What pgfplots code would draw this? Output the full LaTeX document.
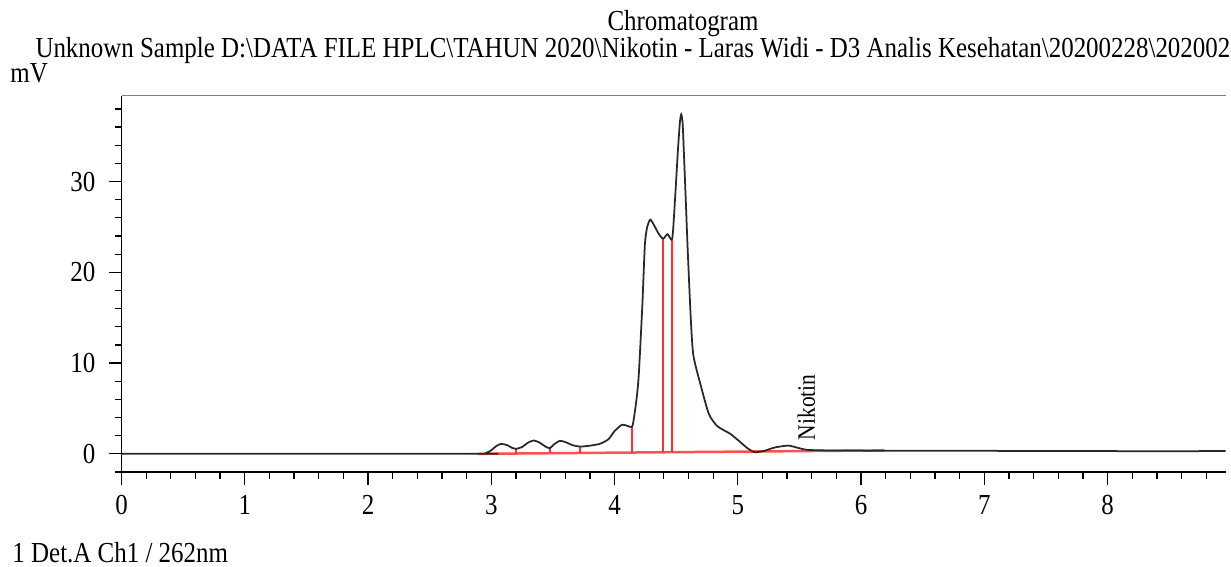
\documentclass[border=0pt]{standalone}
\usepackage{fontspec}
\setmainfont{Liberation Serif}[FakeStretch=0.86]
\usepackage{pgfplots}
\pgfplotsset{compat=1.18}
\definecolor{peakred}{RGB}{255,50,50}
\definecolor{sig}{RGB}{40,40,40}
\begin{document}
\fontsize{11.6}{14}\selectfont
\begin{tikzpicture}[x=0.4pt,y=0.4pt]
\useasboundingbox (0,0) rectangle (1231,566);
\clip (0,0) rectangle (1231,566);
\node[anchor=base, inner sep=0] at (683,535) {Chromatogram};
\node[anchor=base west, inner sep=0] at (35,508) {Unknown Sample D:\textbackslash DATA FILE HPLC\textbackslash TAHUN 2020\textbackslash Nikotin - Laras Widi - D3 Analis Kesehatan\textbackslash 20200228\textbackslash 202002};
\node[anchor=base west, inner sep=0] at (10,483) {mV};
\node[anchor=base west, inner sep=0] at (12,4) {1 Det.A Ch1 / 262nm};
\begin{axis}[
  at={(48.6pt,37.6pt)}, anchor=south west,
  scale only axis, width=441.6pt, height=150.5pt,
  xmin=0, xmax=8.957, ymin=-2, ymax=39.45,
  axis lines*=left, axis line style={-, line width=0.6pt, black},
  xtick={0,1,...,8}, ytick={0,10,20,30},
  minor xtick={0,0.2,...,8.9}, minor ytick={-2,0,...,38},
  tick align=outside,
  major tick length=5.2pt, minor tick length=2.8pt,
  every tick/.style={black, line width=0.5pt},
  /pgf/number format/assume math mode=true,
  tick label style={font=\fontsize{11.6}{14}\selectfont},
  yticklabel style={xshift=-1.2pt},
  clip=false,
]
\draw[gray, line width=0.6pt] (rel axis cs:0,1) -- (rel axis cs:1,1);
% baseline of integration
\addplot[peakred!85, line width=1pt] coordinates {(2.89,0) (6.19,0.38)};
% peak boundary markers
\addplot[peakred, line width=0.7pt] coordinates {(3.20,0.036) (3.20,0.55)};
\addplot[peakred, line width=0.7pt] coordinates {(3.475,0.067) (3.475,0.62)};
\addplot[peakred, line width=0.7pt] coordinates {(3.72,0.096) (3.72,0.80)};
\addplot[peakred, line width=0.7pt] coordinates {(4.143,0.144) (4.143,3.0)};
\addplot[peakred, line width=0.8pt] coordinates {(4.395,0.173) (4.395,23.7)};
\addplot[peakred, line width=0.8pt] coordinates {(4.468,0.182) (4.468,23.7)};
% signal
\addplot[sig, line width=0.7pt, smooth, tension=0.4] coordinates {
(0,0) (2.90,0) (2.95,0.05) (3.00,0.4) (3.04,0.85) (3.08,1.1) (3.13,0.95)
(3.17,0.65) (3.20,0.55) (3.25,0.75) (3.30,1.25) (3.345,1.47) (3.39,1.25)
(3.44,0.8) (3.475,0.62) (3.51,1.05) (3.556,1.43) (3.60,1.3) (3.66,0.95)
(3.72,0.8) (3.80,0.9) (3.88,1.1) (3.95,1.6) (4.00,2.5) (4.06,3.2) (4.10,3.1)
(4.143,3.0) (4.16,4.2) (4.18,6.2) (4.197,8.8) (4.225,16.2) (4.246,23.0)
(4.265,25.0) (4.29,25.8) (4.32,25.2) (4.36,24.2) (4.395,23.7) (4.43,24.2)
(4.468,23.7) (4.49,27.9) (4.514,33.4) (4.53,36.5) (4.541,37.4) (4.552,36.5)
(4.562,33.4) (4.578,27.9) (4.595,22.0) (4.62,14.5) (4.64,10.8) (4.70,7.5)
(4.765,4.4) (4.83,3.1) (4.90,2.5) (4.94,2.2) (5.02,1.3) (5.08,0.6)
(5.14,0.18) (5.22,0.35) (5.30,0.7) (5.41,0.91) (5.49,0.65) (5.56,0.44)
(5.70,0.38) (5.83,0.36) (6.2,0.35) (7.0,0.33) (8.0,0.3) (8.957,0.3)
};
\node[rotate=90, anchor=west, inner sep=0, font=\fontsize{10}{12}\selectfont] at (axis cs:5.555,1.45) {Nikotin};
\end{axis}
\end{tikzpicture}
\end{document}
